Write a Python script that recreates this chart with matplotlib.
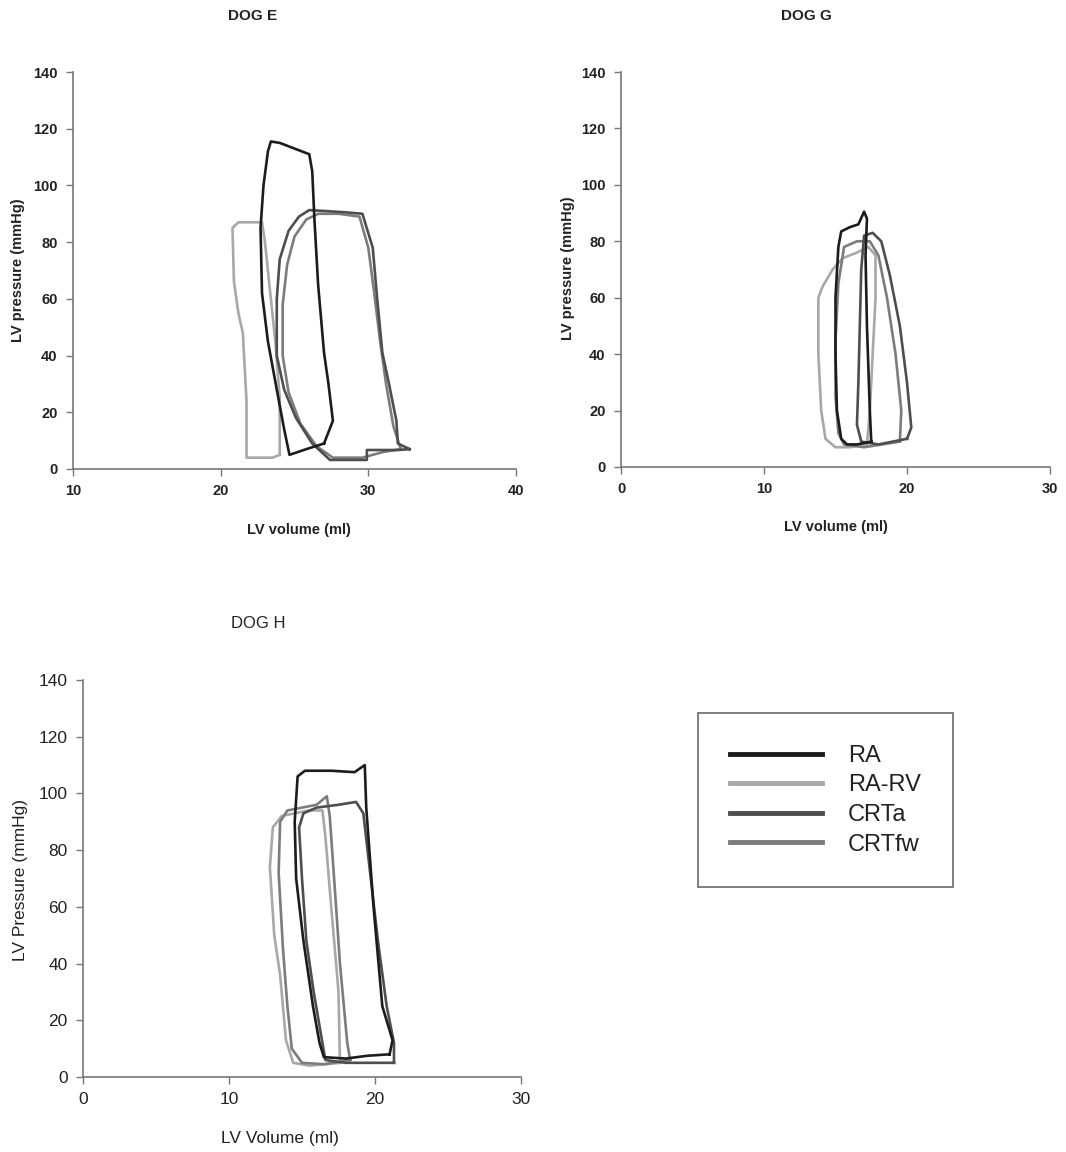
import matplotlib
matplotlib.use("Agg")
import matplotlib.pyplot as plt
from matplotlib.lines import Line2D

plt.rcParams['font.family'] = ['Liberation Sans', 'DejaVu Sans']

conditions = ["RA", "RA-RV", "CRTa", "CRTfw"]
colors = {"RA": "#1c1c1c", "RA-RV": "#a8a8a8", "CRTa": "#4e4e4e", "CRTfw": "#7c7c7c"}

# ---- DOG E: (volume ml, pressure mmHg) ----
e_ra_vol = [27.0, 27.6, 27.3, 27.0, 26.6, 26.35, 26.2, 26.0, 25.0, 24.0, 23.4, 23.2, 22.9, 22.7, 22.8, 23.2, 23.8, 24.3, 24.66, 25.8, 27.0]
e_ra_p = [9, 17, 30, 41, 65, 88, 105, 111, 113, 115, 115.5, 112, 100, 85, 62, 45, 28, 14, 5, 7, 9]
e_rarv_vol = [24.0, 24.0, 23.7, 23.3, 23.0, 22.8, 22.0, 21.2, 20.8, 20.9, 21.2, 21.5, 21.75, 21.75, 22.5, 23.5, 24.0]
e_rarv_p = [5, 25, 45, 65, 80, 87, 87, 87, 85, 66, 55, 48, 24, 4, 4, 4, 5]
e_crta_vol = [32.8, 32.0, 31.9, 31.4, 30.95, 30.6, 30.3, 29.6, 28.5, 27.0, 26.0, 25.3, 24.6, 24.0, 23.8, 23.8, 24.3, 25.1, 26.2, 27.4, 29.9, 29.9, 32.0, 32.8]
e_crta_p = [7, 9, 17, 30, 41, 60, 78, 90, 90.5, 91, 91.3, 89, 84, 74, 60, 40, 28, 18, 9, 3.2, 3.2, 6.7, 6.7, 7]
e_crtfw_vol = [32.2, 31.7, 31.2, 30.8, 30.4, 30.0, 29.4, 28.0, 26.6, 25.8, 25.0, 24.5, 24.2, 24.2, 24.6, 25.4, 26.5, 27.6, 29.6, 31.0, 32.2]
e_crtfw_p = [7, 15, 30, 45, 62, 78, 89, 90, 90, 88, 82, 72, 58, 40, 27, 16, 8, 4, 4, 6, 7]

# ---- DOG G ----
g_ra_vol = [17.5, 17.4, 17.2, 17.1, 17.2, 17.0, 16.6, 16.0, 15.4, 15.2, 15.0, 15.0, 15.1, 15.4, 15.8, 16.5, 17.5]
g_ra_p = [9, 20, 50, 75, 88, 90.5, 86, 85, 83.5, 78, 60, 40, 20, 10, 8, 8, 9]
g_rarv_vol = [17.2, 17.4, 17.6, 17.8, 17.8, 17.3, 16.5, 15.5, 14.8, 14.1, 13.8, 13.8, 14.0, 14.3, 15.0, 16.0, 17.2]
g_rarv_p = [8, 20, 40, 60, 75, 78, 76, 74, 70, 64, 60, 40, 20, 10, 7, 7, 8]
g_crta_vol = [20.0, 20.3, 20.0, 19.5, 18.8, 18.2, 17.6, 17.0, 16.8, 16.7, 16.6, 16.5, 16.8, 18.0, 20.0]
g_crta_p = [10, 14, 30, 50, 68, 80, 83, 82, 70, 50, 30, 15, 9, 8, 10]
g_crtfw_vol = [19.5, 19.6, 19.2, 18.6, 18.0, 17.4, 16.5, 15.6, 15.2, 15.0, 15.0, 15.2, 15.6, 17.0, 19.5]
g_crtfw_p = [9, 20, 40, 60, 75, 80, 80, 78, 65, 45, 25, 12, 8, 7, 9]

# ---- DOG H ----
h_ra_vol = [21.0, 21.2, 20.5, 19.9, 19.4, 19.3, 18.6, 17.0, 15.2, 14.7, 14.5, 14.6, 15.1, 15.75, 16.2, 16.5, 18.0, 19.5, 21.0]
h_ra_p = [8, 13, 25, 60, 95, 110, 107.5, 108, 108, 106, 90, 70, 48, 25, 12, 7, 6.5, 7.5, 8]
h_rarv_vol = [17.6, 17.5, 17.0, 16.6, 16.4, 15.5, 14.5, 13.6, 13.0, 12.8, 13.1, 13.5, 13.9, 14.4, 15.5, 17.6]
h_rarv_p = [5, 30, 60, 85, 94, 94, 93, 92, 88, 74, 50, 36, 13, 5, 4, 5]
h_crta_vol = [21.3, 21.3, 20.8, 20.2, 19.6, 19.2, 18.7, 17.5, 16.0, 15.1, 14.8, 15.0, 15.3, 15.8, 16.3, 16.6, 18.0, 19.5, 21.3]
h_crta_p = [5, 12, 25, 48, 75, 93, 97, 96, 95, 93, 88, 70, 48, 30, 15, 6, 5, 5, 5]
h_crtfw_vol = [18.3, 18.1, 17.6, 17.2, 16.9, 16.7, 16.0, 15.0, 14.0, 13.5, 13.4, 13.7, 14.0, 14.3, 15.0, 16.5, 18.3]
h_crtfw_p = [6, 12, 40, 70, 92, 99, 96, 95, 94, 90, 72, 45, 25, 10, 5, 4.5, 6]

panels = [
    dict(title="DOG E", data={"RA": (e_ra_vol, e_ra_p), "RA-RV": (e_rarv_vol, e_rarv_p),
                              "CRTa": (e_crta_vol, e_crta_p), "CRTfw": (e_crtfw_vol, e_crtfw_p)},
         rect=[73/1066, 1-469/1152, (516-73)/1066, (469-72)/1152],
         xlim=(10, 40), xticks=[10, 20, 30, 40],
         xlabel="LV volume (ml)", ylabel="LV pressure (mmHg)", bold=True,
         title_xy=(253, 16), xl_xy=(299, 530), yl_xy=(18, 270)),
    dict(title="DOG G", data={"RA": (g_ra_vol, g_ra_p), "RA-RV": (g_rarv_vol, g_rarv_p),
                              "CRTa": (g_crta_vol, g_crta_p), "CRTfw": (g_crtfw_vol, g_crtfw_p)},
         rect=[621/1066, 1-467/1152, (1050-621)/1066, (467-72)/1152],
         xlim=(0, 30), xticks=[0, 10, 20, 30],
         xlabel="LV volume (ml)", ylabel="LV pressure (mmHg)", bold=True,
         title_xy=(806, 16), xl_xy=(836, 527), yl_xy=(568, 268)),
    dict(title="DOG H", data={"RA": (h_ra_vol, h_ra_p), "RA-RV": (h_rarv_vol, h_rarv_p),
                              "CRTa": (h_crta_vol, h_crta_p), "CRTfw": (h_crtfw_vol, h_crtfw_p)},
         rect=[83/1066, 1-1077/1152, (521-83)/1066, (1077-680)/1152],
         xlim=(0, 30), xticks=[0, 10, 20, 30],
         xlabel="LV Volume (ml)", ylabel="LV Pressure (mmHg)", bold=False,
         title_xy=(258, 624), xl_xy=(280, 1138), yl_xy=(20, 880)),
]

W, H = 1066, 1152
fig = plt.figure(figsize=(W/100, H/100), dpi=100)

def fx(px):
    return px / W

def fy(py):
    return 1 - py / H

draw_order = ["RA-RV", "CRTfw", "CRTa", "RA"]
for p in panels:
    ax = fig.add_axes(p["rect"])
    for c in draw_order:
        v, pr = p["data"][c]
        ax.plot(v, pr, color=colors[c], lw=1.9, solid_joinstyle="round")
    ax.set_xlim(*p["xlim"])
    ax.set_ylim(0, 140)
    ax.set_xticks(p["xticks"])
    ax.set_yticks(range(0, 141, 20))
    for s in ["top", "right"]:
        ax.spines[s].set_visible(False)
    for s in ["left", "bottom"]:
        ax.spines[s].set_color("#777777")
        ax.spines[s].set_linewidth(1.2)
    fw = "bold" if p["bold"] else "normal"
    fs = 10.5 if p["bold"] else 12.5
    ax.tick_params(direction="out", length=5, width=1, color="#777777", labelsize=fs, pad=6)
    for lab in ax.get_xticklabels() + ax.get_yticklabels():
        lab.set_fontweight(fw)
        lab.set_color("#222222")
    fig.text(fx(p["title_xy"][0]), fy(p["title_xy"][1]), p["title"], ha="center", va="center",
             fontsize=11 if p["bold"] else 12, fontweight=fw, color="#222222")
    fig.text(fx(p["xl_xy"][0]), fy(p["xl_xy"][1]), p["xlabel"], ha="center", va="center",
             fontsize=fs, fontweight=fw, color="#222222")
    fig.text(fx(p["yl_xy"][0]), fy(p["yl_xy"][1]), p["ylabel"], ha="center", va="center",
             rotation=90, fontsize=fs, fontweight=fw, color="#222222")

# legend
handles = [Line2D([0], [0], color=colors[c], lw=3.5) for c in conditions]
leg = fig.legend(handles, conditions, loc="upper left",
                 bbox_to_anchor=(fx(698), fy(713)), frameon=True, fancybox=False,
                 fontsize=17, handlelength=3.9, handletextpad=1.1, labelspacing=0.32,
                 borderpad=1.35, borderaxespad=0)
frame = leg.get_frame()
frame.set_edgecolor("#444444")
frame.set_linewidth(1.2)
for t in leg.get_texts():
    t.set_color("#222222")

fig.savefig("out.png", dpi=100, facecolor="white")
